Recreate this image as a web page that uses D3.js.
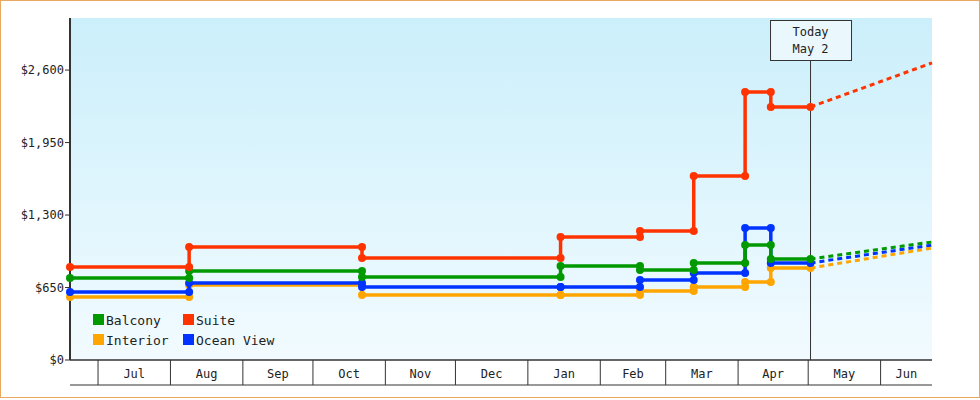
<!DOCTYPE html>
<html><head><meta charset="utf-8">
<script src="https://cdn.jsdelivr.net/npm/d3@7"></script>
<style>body{margin:0;background:#fff}svg{display:block;font-family:"DejaVu Sans Mono",monospace}</style>
</head><body><svg id="c" width="980" height="400"></svg>
<script>
// price change dates (step after)
const dates = ['2024-06-19','2024-08-09','2024-10-22','2025-01-15','2025-02-18','2025-03-13','2025-04-04','2025-04-15'];
const today = '2025-05-02';
const projEnd = '2025-06-23';
const suite = [834, 1013, 915, 1103, 1157, 1650, 2404, 2269];
const balcony = [735, 798, 744, 843, 807, 870, 1031, 906];
const oceanView = [610, 690, 655, 655, 718, 780, 1184, 870];
const interior = [565, 673, 583, 583, 619, 655, 700, 825];
const projected = {Suite: 2664, Balcony: 1058, 'Ocean View': 1031, Interior: 1004};
const yTicks = [0, 650, 1300, 1950, 2600];
const months = ['2024-07-01','2024-08-01','2024-09-01','2024-10-01','2024-11-01','2024-12-01','2025-01-01','2025-02-01','2025-03-01','2025-04-01','2025-05-01','2025-06-01'];

const series = [
  {name:'Interior', color:'#ffa500', values:interior},
  {name:'Ocean View', color:'#0033ff', values:oceanView},
  {name:'Balcony', color:'#009900', values:balcony},
  {name:'Suite', color:'#ff3300', values:suite}
];
const P = d3.timeParse('%Y-%m-%d');
const svg = d3.select('#c');
const L = 70, R = 932, T = 18, B = 360;
const x = d3.scaleTime().domain([P(dates[0]), P(projEnd)]).range([L, R]);
const y = d3.scaleLinear().domain([0, 3067]).range([B, T]);

svg.append('rect').attr('x',0.5).attr('y',0.5).attr('width',979).attr('height',397).attr('fill','#fff').attr('stroke','#e8a860');
const grad = svg.append('defs').append('linearGradient').attr('id','bg').attr('x1',0).attr('x2',0).attr('y1',0).attr('y2',1);
grad.append('stop').attr('offset','0%').attr('stop-color','#cbeffb');
grad.append('stop').attr('offset','100%').attr('stop-color','#f2fbff');
svg.append('rect').attr('x',L).attr('y',T).attr('width',R-L).attr('height',B-T).attr('fill','url(#bg)');

// y axis
svg.append('line').attr('x1',L).attr('x2',L).attr('y1',T).attr('y2',B).attr('stroke','#333').attr('stroke-width',2);
yTicks.forEach(t => {
  svg.append('line').attr('x1',L-5).attr('x2',L).attr('y1',y(t)).attr('y2',y(t)).attr('stroke','#333');
  svg.append('text').attr('x',L-6).attr('y',y(t)+4).attr('text-anchor','end').attr('font-size',12).attr('fill','#222')
    .text(d3.format('$,')(t));
});

// x axis band
svg.append('line').attr('x1',L).attr('x2',R).attr('y1',B).attr('y2',B).attr('stroke','#333').attr('stroke-width',1.5);
svg.append('line').attr('x1',L).attr('x2',R).attr('y1',385).attr('y2',385).attr('stroke','#333');
const mb = months.map(P);
mb.forEach((m, i) => {
  svg.append('line').attr('x1',x(m)).attr('x2',x(m)).attr('y1',B).attr('y2',385).attr('stroke','#333');
  const next = i < mb.length - 1 ? x(mb[i+1]) : R;
  svg.append('text').attr('x',(x(m)+next)/2).attr('y',378).attr('text-anchor','middle').attr('font-size',12).attr('fill','#222')
    .text(d3.timeFormat('%b')(m));
});

// today marker
const tx = x(P(today));
svg.append('line').attr('x1',tx).attr('x2',tx).attr('y1',60).attr('y2',B).attr('stroke','#333');
svg.append('rect').attr('x',tx-40).attr('y',20.5).attr('width',81).attr('height',40).attr('fill','#eaf8fd').attr('stroke','#333');
svg.append('text').attr('x',tx).attr('y',36).attr('text-anchor','middle').attr('font-size',12).attr('fill','#222').text('Today');
svg.append('text').attr('x',tx).attr('y',53).attr('text-anchor','middle').attr('font-size',12).attr('fill','#222').text('May 2');

const line = d3.line().x(d => x(d[0])).y(d => y(d[1])).curve(d3.curveStepAfter);
series.forEach(s => {
  const pts = dates.map((d, i) => [P(d), s.values[i]]);
  pts.push([P(today), s.values[s.values.length-1]]);
  svg.append('path').attr('d', line(pts)).attr('fill','none').attr('stroke',s.color).attr('stroke-width',3.5);
  svg.append('line').attr('x1',tx).attr('y1',y(pts[pts.length-1][1])).attr('x2',x(P(projEnd))).attr('y2',y(projected[s.name]))
    .attr('stroke',s.color).attr('stroke-width',3).attr('stroke-dasharray','5,4');
  const marks = [];
  pts.forEach((p, i) => {
    marks.push(p);
    if (i > 0 && i < pts.length - 1) marks.push([p[0], pts[i-1][1]]);
  });
  svg.selectAll(null).data(marks).enter().append('circle')
    .attr('cx', d => x(d[0])).attr('cy', d => y(d[1])).attr('r', 4).attr('fill', s.color);
});

// legend
const leg = [['Balcony','#009900',93,320],['Suite','#ff3300',183,320],['Interior','#ffa500',93,340],['Ocean View','#0033ff',183,340]];
leg.forEach(([n,c,lx,ly]) => {
  svg.append('rect').attr('x',lx).attr('y',ly-6).attr('width',11).attr('height',11).attr('fill',c);
  svg.append('text').attr('x',lx+13).attr('y',ly+5).attr('font-size',13).attr('fill','#222').text(n);
});
</script></body></html>
